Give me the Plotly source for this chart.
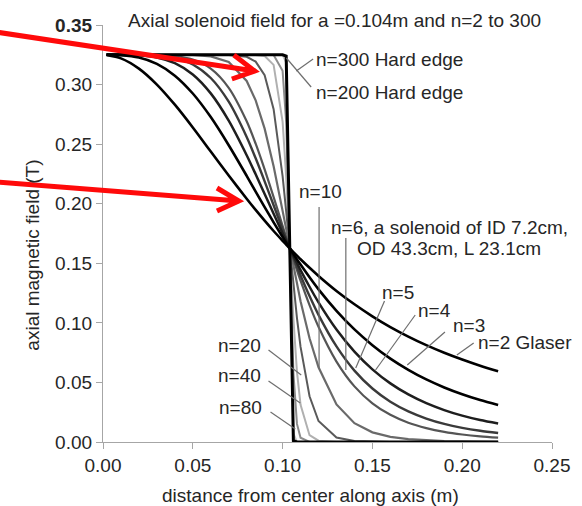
import plotly.graph_objects as go

# ---- data ----
z = [0.002, 0.01, 0.02, 0.03, 0.04, 0.05, 0.06, 0.07, 0.08, 0.085, 0.09, 0.095, 0.1, 0.102, 0.104,
     0.106, 0.108, 0.11, 0.115, 0.12, 0.13, 0.14, 0.15, 0.16, 0.17, 0.18, 0.19, 0.2, 0.21, 0.22]

b_n2 = [0.3249, 0.3220, 0.3134, 0.3000, 0.2831, 0.2640, 0.2438, 0.2237, 0.2042, 0.1948, 0.1858, 0.1771,
        0.1689, 0.1657, 0.1625, 0.1594, 0.1564, 0.1534, 0.1462, 0.1394, 0.1268, 0.1156, 0.1055, 0.0965,
        0.0885, 0.0813, 0.0749, 0.0692, 0.0640, 0.0594]
b_n3 = [0.325, 0.3247, 0.3227, 0.3174, 0.3075, 0.2925, 0.2727, 0.2491, 0.2234, 0.2102, 0.1972, 0.1844,
        0.1721, 0.1672, 0.1625, 0.1579, 0.1533, 0.1489, 0.1382, 0.1281, 0.1101, 0.0945, 0.0813, 0.0700,
        0.0606, 0.0525, 0.0458, 0.0401, 0.0352, 0.0310]
b_n4 = [0.325, 0.325, 0.3246, 0.3228, 0.318, 0.3085, 0.2926, 0.2697, 0.2407, 0.2247, 0.2082, 0.1916,
        0.1752, 0.1688, 0.1625, 0.1563, 0.1503, 0.1443, 0.1303, 0.1172, 0.0944, 0.0759, 0.0610, 0.0492,
        0.0399, 0.0326, 0.0268, 0.0221, 0.0184, 0.0155]
b_n5 = [0.325, 0.325, 0.3249, 0.3243, 0.3223, 0.3169, 0.3055, 0.2856, 0.2560, 0.2381, 0.2188, 0.1987,
        0.1784, 0.1704, 0.1625, 0.1548, 0.1472, 0.1398, 0.1225, 0.1067, 0.0802, 0.0599, 0.0449, 0.0338,
        0.0257, 0.0197, 0.0152, 0.0119, 0.0094, 0.0075]
b_n6 = [0.325, 0.325, 0.325, 0.3248, 0.324, 0.3210, 0.3134, 0.2973, 0.2692, 0.2504, 0.2288, 0.2056,
        0.1815, 0.1719, 0.1625, 0.1532, 0.1442, 0.1354, 0.1149, 0.0967, 0.0675, 0.0467, 0.0325, 0.0228,
        0.0162, 0.0117, 0.0085, 0.0063, 0.0047, 0.0036]
b_n10 = [0.325, 0.325, 0.325, 0.325, 0.325, 0.3248, 0.3237, 0.3189, 0.303, 0.2868, 0.263, 0.2314,
         0.194, 0.1782, 0.1625, 0.1471, 0.1322, 0.1181, 0.0871, 0.0627, 0.0315, 0.0158, 0.0081, 0.0043,
         0.0024, 0.0013, 0.0008, 0.0005, 0.0003, 0.0002]
b_n20 = [0.325, 0.325, 0.325, 0.325, 0.325, 0.325, 0.325, 0.3249, 0.3233, 0.3193, 0.3079, 0.2793,
         0.2231, 0.1936, 0.1625, 0.132, 0.104, 0.0798, 0.0384, 0.0176, 0.0037, 0.0008, 0.0002, 0.0,
         0.0, 0.0, 0.0, 0.0, 0.0, 0.0]
b_n40 = [0.325, 0.325, 0.325, 0.325, 0.325, 0.325, 0.325, 0.325, 0.325, 0.3249, 0.324, 0.3165,
         0.2689, 0.2226, 0.1625, 0.1036, 0.0589, 0.0312, 0.0057, 0.0011, 0.0, 0.0, 0.0, 0.0,
         0.0, 0.0, 0.0, 0.0, 0.0, 0.0]
b_n80 = [0.325, 0.325, 0.325, 0.325, 0.325, 0.325, 0.325, 0.325, 0.325, 0.325, 0.325, 0.3248,
         0.3115, 0.2682, 0.1625, 0.0583, 0.0152, 0.0036, 0.0001, 0.0, 0.0, 0.0, 0.0, 0.0,
         0.0, 0.0, 0.0, 0.0, 0.0, 0.0]
b_n200 = [0.325, 0.325, 0.325, 0.325, 0.325, 0.325, 0.325, 0.325, 0.325, 0.325, 0.325, 0.325,
          0.3249, 0.3184, 0.1625, 0.0071, 0.0001, 0.0, 0.0, 0.0, 0.0, 0.0, 0.0, 0.0,
          0.0, 0.0, 0.0, 0.0, 0.0, 0.0]
b_n300 = [0.325, 0.325, 0.325, 0.325, 0.325, 0.325, 0.325, 0.325, 0.325, 0.325, 0.325, 0.325,
          0.325, 0.324, 0.1625, 0.0011, 0.0, 0.0, 0.0, 0.0, 0.0, 0.0, 0.0, 0.0,
          0.0, 0.0, 0.0, 0.0, 0.0, 0.0]

x_ticks = [0.0, 0.05, 0.10, 0.15, 0.20, 0.25]
x_ticklabels = ["0.00", "0.05", "0.10", "0.15", "0.20", "0.25"]
y_ticks = [0.0, 0.05, 0.10, 0.15, 0.20, 0.25, 0.30, 0.35]
y_ticklabels = ["0.00", "0.05", "0.10", "0.15", "0.20", "0.25", "0.30", "<b>0.35</b>"]

# ---- layout geometry ----
W, H = 582, 506
L, R, T, B = 103, 26, 25, 64
PW, PH = W - L - R, H - T - B
FONT = "Liberation Sans, Arial, sans-serif"
FS = 19


def px(X):
    return (X - L) / PW


def py(Y):
    return (H - B - Y) / PH


fig = go.Figure()

curves = [
    (b_n200, "#c4c4c4", 2.0, "linear"),
    (b_n80, "#8c8c8c", 2.0, "linear"),
    (b_n40, "#b0b0b0", 2.0, "linear"),
    (b_n20, "#5a5a5a", 2.0, "linear"),
    (b_n10, "#6a6a6a", 2.2, "linear"),
    (b_n6, "#555555", 2.2, "spline"),
    (b_n5, "#3a3a3a", 2.4, "spline"),
    (b_n4, "#1e1e1e", 2.5, "spline"),
    (b_n3, "#000000", 2.6, "spline"),
    (b_n2, "#000000", 2.6, "spline"),
    (b_n300, "#000000", 3.0, "linear"),
]
for ys, col, w, shp in curves:
    line = dict(color=col, width=w, shape=shp)
    if shp == "spline":
        line["smoothing"] = 0.8
    fig.add_trace(go.Scatter(x=z, y=ys, mode="lines", line=line,
                             cliponaxis=False, showlegend=False, hoverinfo="skip"))

shapes = []


def seg(x0, y0, x1, y1, color="#6e6e6e", width=1.2):
    shapes.append(dict(type="line", xref="paper", yref="paper",
                       x0=px(x0), y0=py(y0), x1=px(x1), y1=py(y1),
                       line=dict(color=color, width=width)))


# leader lines
seg(321, 207, 321, 368)          # n=10
seg(348, 238, 348, 370)          # n=6
seg(387, 301, 358, 368)          # n=5
seg(418, 315, 378, 370)          # n=4
seg(448, 332, 410, 365)          # n=3
seg(477, 343, 460, 355)          # n=2
seg(270, 350, 303, 375)          # n=20
seg(270, 381, 302, 403)          # n=40
seg(272, 412, 297, 429)          # n=80
seg(315, 59, 298, 71)            # n=300
seg(288, 58, 313, 87)            # n=200

# red arrows
RED = "#ff0a0a"
for (sx, sy, tx, ty, b1, b2) in [
    (-5, 32, 256, 71, (235, 55), (233, 79)),
    (-5, 182, 240, 201, (218, 188), (218, 211)),
]:
    path = (f"M {px(sx)},{py(sy)} L {px(tx)},{py(ty)} "
            f"M {px(b1[0])},{py(b1[1])} L {px(tx)},{py(ty)} L {px(b2[0])},{py(b2[1])}")
    shapes.append(dict(type="path", xref="paper", yref="paper", path=path,
                       line=dict(color=RED, width=5)))

annotations = []


def text(X, Y, s, size=FS, anchor="left", angle=0, color="#262626"):
    annotations.append(dict(x=px(X), y=py(Y), xref="paper", yref="paper", text=s,
                            showarrow=False, xanchor=anchor, yanchor="middle",
                            textangle=angle, font=dict(family=FONT, size=size, color=color)))


text(337, 20, "Axial solenoid field for a =0.104m and n=2 to 300", anchor="center")
text(312, 495, "distance from center along axis (m)", anchor="center")
text(31, 255, "axial magnetic field (T)", anchor="center", angle=-90)
text(316, 59, "n=300 Hard edge")
text(316, 92, "n=200 Hard edge")
text(299, 192, "n=10")
text(331, 227, "n=6, a solenoid of ID 7.2cm,")
text(357, 248, "OD 43.3cm, L 23.1cm")
text(382, 292, "n=5")
text(419, 310, "n=4")
text(454, 325, "n=3")
text(479, 342, "n=2 Glaser")
text(264, 345, "n=20", anchor="right")
text(264, 375, "n=40", anchor="right")
text(265, 407, "n=80", anchor="right")

axis_common = dict(showgrid=False, zeroline=False, showline=True, linecolor="#a6a6a6",
                   linewidth=1.2, ticks="outside", ticklen=6, tickcolor="#a6a6a6",
                   tickwidth=1.2, tickfont=dict(family=FONT, size=FS, color="#262626"))

fig.update_layout(
    width=W, height=H, margin=dict(l=L, r=R, t=T, b=B),
    paper_bgcolor="white", plot_bgcolor="white",
    xaxis=dict(range=[0, 0.25], tickmode="array", tickvals=x_ticks, ticktext=x_ticklabels,
               **axis_common),
    yaxis=dict(range=[0, 0.35], tickmode="array", tickvals=y_ticks, ticktext=y_ticklabels,
               **axis_common),
    shapes=shapes, annotations=annotations, showlegend=False,
)

fig.write_html("out.html")
